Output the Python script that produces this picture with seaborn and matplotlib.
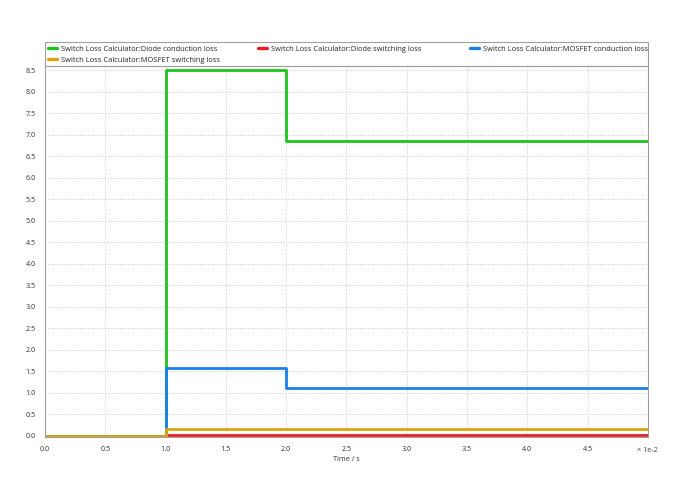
import pandas as pd
import matplotlib
matplotlib.use("Agg")
import matplotlib.pyplot as plt
from matplotlib.patches import Rectangle
import seaborn as sns

# Step data (time in s, loss in W).
time_s = [0.0, 0.01, 0.02, 0.03, 0.04, 0.05]
diode_conduction = [0.0, 8.5, 6.85, 6.86, 6.86, 6.86]
diode_switching = [0.0, 0.01, 0.01, 0.01, 0.01, 0.01]
mosfet_conduction = [0.0, 1.58, 1.10, 1.10, 1.10, 1.10]
mosfet_switching = [0.0, 0.16, 0.15, 0.15, 0.15, 0.15]

series_names = [
    "Switch Loss Calculator:Diode conduction loss",
    "Switch Loss Calculator:Diode switching loss",
    "Switch Loss Calculator:MOSFET conduction loss",
    "Switch Loss Calculator:MOSFET switching loss",
]
series_values = [diode_conduction, diode_switching, mosfet_conduction, mosfet_switching]
colors = ["#1ec31e", "#ec1c24", "#1a80ea", "#d9a40c"]

sns.set_theme(style="white")
plt.rcParams["font.family"] = ["Open Sans", "DejaVu Sans"]

fig = plt.figure(figsize=(6.9, 4.87), dpi=100)
ax = fig.add_axes([0.0652, 0.1027, 0.8738, 0.7618])

handles = []
for name, values, color in zip(series_names, series_values, colors):
    df = pd.DataFrame({"t": time_s, "v": values})
    sns.lineplot(data=df, x="t", y="v", ax=ax, color=color, linewidth=2.0,
                 drawstyle="steps-post", label=name, legend=False)
    handles.append(ax.lines[-1])

ax.set_xlim(0, 0.05)
ax.set_ylim(-0.03, 8.6)
ax.set_xticks([i * 0.005 for i in range(11)])
ax.set_xticklabels([f"{i * 0.5:.1f}" for i in range(10)] + [""])
ax.set_yticks([i * 0.5 for i in range(18)])
ax.set_yticklabels([f"{i * 0.5:.1f}" for i in range(18)])
ax.grid(True, color="#d0d0d0", linestyle=(0, (1.5, 1.5)), linewidth=0.6)
ax.tick_params(labelsize=5.2, length=3, width=0.6, direction="out")
ax.tick_params(axis="both", colors="#999999", labelcolor="#333333")
for side in ["left", "bottom", "right", "top"]:
    ax.spines[side].set_color("#a0a0a0")
    ax.spines[side].set_linewidth(0.8)
ax.set_xlabel("Time / s", fontsize=5.2, color="#333333", labelpad=2)
ax.set_ylabel("")
ax.text(1.0, -0.027, "× 1e-2", transform=ax.transAxes, ha="center", va="top",
        fontsize=5.2, color="#444444")

# Legend: three fixed-width columns inside one gray box above the plot.
fig.add_artist(Rectangle((0.0652, 0.8655), 0.8738, 24 / 487, transform=fig.transFigure,
                         fill=False, edgecolor="#a0a0a0", linewidth=0.8))
columns = [([0, 3], 48 / 690), ([1], 258 / 690), ([2], 470 / 690)]
for idx, x0 in columns:
    leg = fig.legend([handles[i] for i in idx], [series_names[i] for i in idx],
                     loc="upper left", bbox_to_anchor=(x0, 0.906), frameon=False,
                     fontsize=5.4, handlelength=1.2, handletextpad=0.55,
                     borderpad=0.0, borderaxespad=0.0, labelspacing=0.45)
    for line in leg.get_lines():
        line.set_linewidth(2.4)

fig.savefig("out.png", dpi=100)
